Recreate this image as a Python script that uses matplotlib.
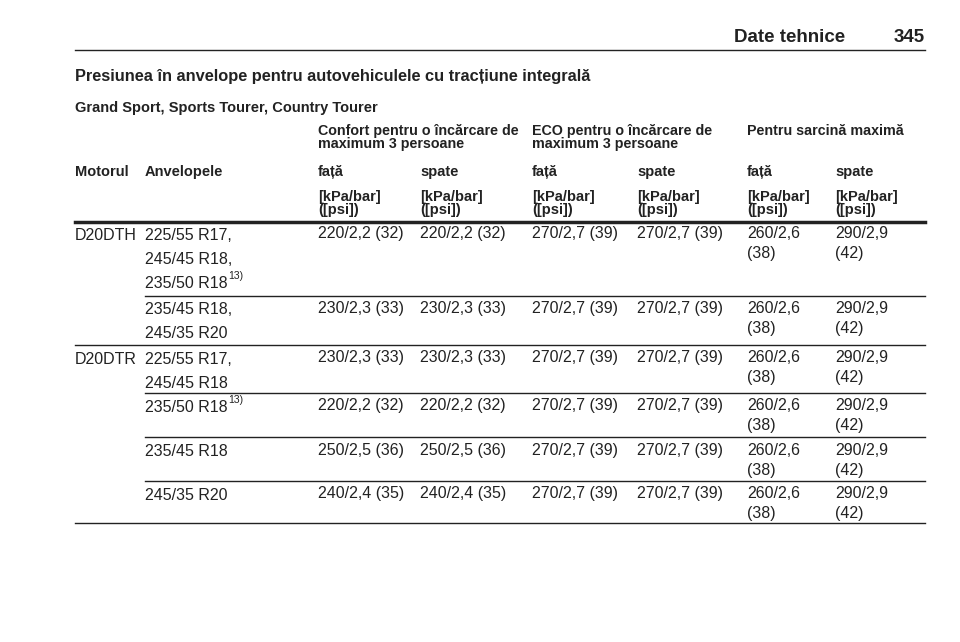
import matplotlib
matplotlib.use("Agg")
import matplotlib.pyplot as plt

engines = ["D20DTH", "", "D20DTR", "", "", ""]
tyres = [["225/55 R17,", "245/45 R18,", "235/50 R18"],
         ["235/45 R18,", "245/35 R20"],
         ["225/55 R17,", "245/45 R18"],
         ["235/50 R18"],
         ["235/45 R18"],
         ["245/35 R20"]]
footnote = [(0, 2), (3, 0)]
comfort = ["220/2,2 (32)", "230/2,3 (33)", "230/2,3 (33)", "220/2,2 (32)", "250/2,5 (36)", "240/2,4 (35)"]
eco = ["270/2,7 (39)"] * 6
max_front = ["260/2,6\n(38)"] * 6
max_rear = ["290/2,9\n(42)"] * 6
group_headers = ["Confort pentru o încărcare de\nmaximum 3 persoane",
                 "ECO pentru o încărcare de\nmaximum 3 persoane",
                 "Pentru sarcină maximă"]
col_headers = ["Motorul", "Anvelopele", "față", "spate", "față", "spate", "față", "spate"]
unit = "[kPa/bar]\n([psi])"

plt.rcParams['font.family'] = ['Liberation Sans', 'DejaVu Sans']
fig = plt.figure(figsize=(9.6, 6.42), dpi=100)
ax = fig.add_axes([0, 0, 1, 1])
ax.set_xlim(0, 960); ax.set_ylim(642, 0); ax.axis("off")
fs = 11.5
C = "#222222"

ax.text(845, 42, "Date tehnice", ha="right", va="baseline", fontsize=13.5, fontweight="bold", color=C)
ax.text(925, 42, "345", ha="right", va="baseline", fontsize=13.5, fontweight="bold", color=C)
ax.plot([75, 925], [50, 50], color=C, lw=1)
ax.text(75, 81, "Presiunea în anvelope pentru autovehiculele cu tracțiune integrală",
        fontsize=11.8, fontweight="bold", va="baseline", color=C)
ax.text(75, 112, "Grand Sport, Sports Tourer, Country Tourer", fontsize=10.5, fontweight="bold", va="baseline", color=C)

xs = [75, 145, 318, 420, 532, 637, 747, 835]
for x, g in zip([318, 532, 747], group_headers):
    ax.text(x, 124, g, fontsize=10.3, fontweight="bold", va="top", color=C, linespacing=0.95)
for x, h in zip(xs, col_headers):
    ax.text(x, 172, h, fontsize=10.5, fontweight="bold", va="center", color=C)
for x in xs[2:]:
    ax.text(x, 190, unit, fontsize=10.5, fontweight="bold", va="top", color=C, linespacing=0.95)
ax.plot([75, 925], [222, 222], color=C, lw=2.5)

row_top = [235, 310, 359, 407, 452, 495]
row_line = [(296, 145), (345, 75), (393, 145), (437, 145), (481, 145), (523, 75)]
for i in range(6):
    y = row_top[i]
    if engines[i]:
        ax.text(xs[0], y, engines[i], fontsize=fs, va="center", color=C)
    for k, t in enumerate(tyres[i]):
        ax.text(xs[1], y + 24 * k, t, fontsize=fs, va="center", color=C)
        if (i, k) in footnote:
            ax.text(xs[1] + 83, y + 24 * k - 7, "13)", fontsize=7.5, va="center", color=C)
    for x, v in zip(xs[2:], [comfort[i], comfort[i], eco[i], eco[i], max_front[i], max_rear[i]]):
        ax.text(x, y - 9, v, fontsize=fs, va="top", color=C, linespacing=1.45)
    ly, lx = row_line[i]
    ax.plot([lx, 925], [ly, ly], color=C, lw=1)

fig.savefig("out.png", dpi=100)
